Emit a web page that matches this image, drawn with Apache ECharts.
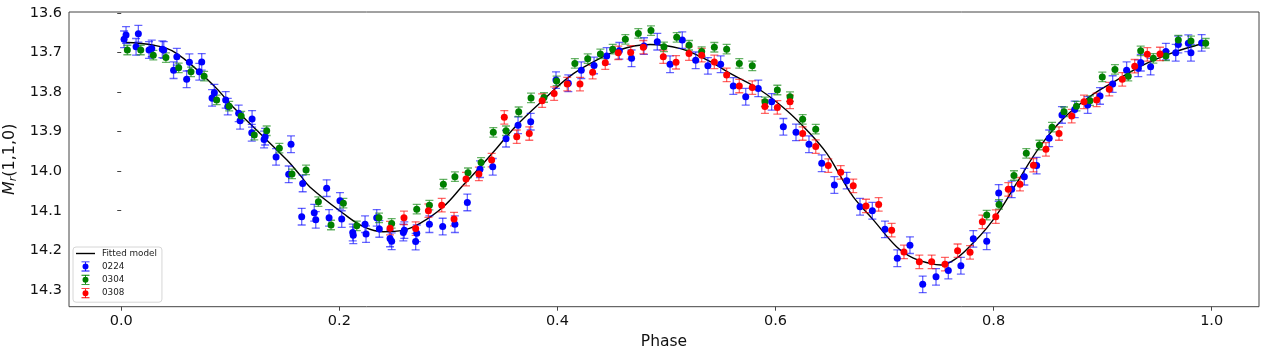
<!DOCTYPE html>
<html>
<head>
<meta charset="utf-8">
<script src="https://cdn.jsdelivr.net/npm/echarts@6/dist/echarts.min.js"></script>
<style>
  html, body { margin: 0; padding: 0; background: #fff; }
  #main { width: 1266px; height: 354px; }
</style>
</head>
<body>
<div id="main"></div>
<script>
// light curve data
var bluePhase = [0.0026, 0.0044, 0.0136, 0.0157, 0.0255, 0.028, 0.0377, 0.039, 0.048, 0.051,
  0.060, 0.0625, 0.0716, 0.0738, 0.0833, 0.0854, 0.0958, 0.0977, 0.1077, 0.109,
  0.1197, 0.120, 0.131, 0.132, 0.142, 0.1536, 0.1557, 0.1664, 0.1655, 0.177,
  0.1784, 0.1884, 0.1906, 0.2006, 0.2022, 0.2123, 0.2128, 0.2236, 0.2245, 0.2343,
  0.2367, 0.2465, 0.248, 0.2587, 0.2596, 0.270, 0.271, 0.2826, 0.2948, 0.306,
  0.3174, 0.329, 0.3407, 0.3529, 0.3639, 0.3755, 0.3987, 0.410, 0.4219, 0.4336,
  0.4452, 0.4568, 0.468, 0.4794, 0.4916, 0.5033, 0.5145, 0.5268, 0.538, 0.5497,
  0.5613, 0.5727, 0.5842, 0.5965, 0.6072, 0.6188, 0.6307, 0.6424, 0.654, 0.6653,
  0.6775, 0.6888, 0.7004, 0.7117, 0.7233, 0.735, 0.7472, 0.7585, 0.770, 0.7814,
  0.7937, 0.8047, 0.8166, 0.8282, 0.8395, 0.851, 0.8627, 0.8744, 0.8863, 0.8976,
  0.9092, 0.922, 0.9327, 0.935, 0.944, 0.958, 0.967, 0.9694, 0.9786, 0.981, 0.9908];
var blueMag = [13.667, 13.656, 13.686, 13.653, 13.694, 13.690, 13.692, 13.694, 13.745, 13.711,
  13.768, 13.725, 13.749, 13.724, 13.815, 13.802, 13.820, 13.837, 13.854, 13.873,
  13.903, 13.868, 13.920, 13.913, 13.964, 14.008, 13.932, 14.031, 14.115, 14.105,
  14.123, 14.043, 14.118, 14.075, 14.121, 14.155, 14.162, 14.134, 14.159, 14.118,
  14.146, 14.170, 14.177, 14.155, 14.149, 14.178, 14.157, 14.134, 14.140, 14.134,
  14.079, 13.995, 13.989, 13.918, 13.884, 13.875, 13.770, 13.778, 13.745, 13.733,
  13.709, 13.696, 13.715, 13.684, 13.673, 13.730, 13.669, 13.720, 13.734, 13.730,
  13.785, 13.812, 13.791, 13.825, 13.888, 13.902, 13.932, 13.980, 14.035, 14.024,
  14.090, 14.100, 14.147, 14.220, 14.187, 14.286, 14.267, 14.251, 14.239, 14.171,
  14.177, 14.055, 14.046, 14.014, 13.986, 13.917, 13.858, 13.844, 13.833, 13.810,
  13.780, 13.745, 13.740, 13.726, 13.736, 13.698, 13.701, 13.680, 13.677, 13.701, 13.676];

var greenPhase = [0.0056, 0.0179, 0.0294, 0.041, 0.0527, 0.064, 0.076, 0.0875, 0.099, 0.110,
  0.122, 0.1334, 0.145, 0.1566, 0.1695, 0.1808, 0.1924, 0.2037, 0.216, 0.2364,
  0.248, 0.271, 0.2826, 0.2954, 0.306, 0.318, 0.330, 0.3412, 0.3529, 0.3645,
  0.3758, 0.3877, 0.3993, 0.416, 0.4278, 0.4394, 0.4507, 0.4623, 0.4742, 0.4858,
  0.4977, 0.5094, 0.5207, 0.5323, 0.5439, 0.5552, 0.5668, 0.5787, 0.5903, 0.6017,
  0.6133, 0.6249, 0.6369, 0.7937, 0.805, 0.8187, 0.830, 0.842, 0.8536, 0.8646,
  0.876, 0.8884, 0.8997, 0.9113, 0.9235, 0.9349, 0.9465, 0.958, 0.9694, 0.981, 0.9945];
var greenMag = [13.694, 13.694, 13.707, 13.713, 13.739, 13.749, 13.760, 13.820, 13.836, 13.861,
  13.909, 13.898, 13.942, 14.007, 13.997, 14.077, 14.136, 14.081, 14.138, 14.118,
  14.132, 14.096, 14.086, 14.033, 14.014, 14.004, 13.978, 13.902, 13.898, 13.850,
  13.815, 13.814, 13.772, 13.728, 13.716, 13.704, 13.692, 13.667, 13.652, 13.645,
  13.686, 13.662, 13.682, 13.698, 13.687, 13.692, 13.728, 13.734, 13.825, 13.795,
  13.812, 13.869, 13.894, 14.111, 14.084, 14.011, 13.955, 13.934, 13.889, 13.850,
  13.836, 13.822, 13.762, 13.743, 13.760, 13.696, 13.715, 13.709, 13.669, 13.671, 13.677];

var redPhase = [0.2465, 0.2593, 0.270, 0.2817, 0.2939, 0.3052, 0.3162, 0.328, 0.3397, 0.3513,
  0.3627, 0.3742, 0.386, 0.397, 0.409, 0.4207, 0.4323, 0.4439, 0.4558, 0.4672,
  0.4788, 0.4971, 0.5088, 0.5207, 0.5323, 0.5439, 0.5552, 0.5668, 0.5787, 0.5903,
  0.6017, 0.6133, 0.6249, 0.6369, 0.6484, 0.6598, 0.6713, 0.683, 0.6946, 0.7065,
  0.7178, 0.7319, 0.7432, 0.7554, 0.767, 0.7784, 0.7897, 0.802, 0.8135, 0.8242,
  0.8365, 0.848, 0.860, 0.8716, 0.8829, 0.8945, 0.9061, 0.918, 0.9294, 0.941, 0.9526];
var redMag = [14.144, 14.118, 14.145, 14.100, 14.086, 14.121, 14.020, 14.007, 13.972, 13.864,
  13.913, 13.905, 13.822, 13.804, 13.780, 13.780, 13.750, 13.726, 13.701, 13.700,
  13.687, 13.711, 13.725, 13.703, 13.707, 13.724, 13.757, 13.785, 13.789, 13.837,
  13.839, 13.825, 13.905, 13.938, 13.986, 14.003, 14.037, 14.088, 14.084, 14.149,
  14.204, 14.229, 14.229, 14.235, 14.201, 14.205, 14.128, 14.115, 14.046, 14.033,
  13.985, 13.945, 13.905, 13.861, 13.825, 13.820, 13.793, 13.768, 13.735, 13.705, 13.704];

// typical 1-sigma error per night
var blueErr = 0.021;
var greenErr = 0.012;
var redErr = 0.017;

var modelPhase = [0.004, 0.03, 0.051, 0.0845, 0.1026, 0.121, 0.152, 0.164, 0.173, 0.2037,
  0.222, 0.2404, 0.2587, 0.274, 0.2954, 0.3137, 0.326, 0.3443, 0.3627, 0.387,
  0.4116, 0.433, 0.4544, 0.485, 0.512, 0.537, 0.561, 0.586, 0.610, 0.6286,
  0.647, 0.659, 0.6713, 0.6897, 0.711, 0.7264, 0.7417, 0.752, 0.766, 0.781,
  0.7937, 0.806, 0.821, 0.8425, 0.864, 0.888, 0.913, 0.937, 0.962, 0.986, 0.994];
var modelMag = [13.675, 13.682, 13.703, 13.783, 13.838, 13.888, 13.972, 14.010, 14.040, 14.107,
  14.140, 14.153, 14.149, 14.132, 14.090, 14.035, 13.999, 13.942, 13.884, 13.820,
  13.760, 13.724, 13.696, 13.680, 13.690, 13.719, 13.757, 13.795, 13.846, 13.896,
  13.955, 14.010, 14.065, 14.123, 14.191, 14.220, 14.233, 14.237, 14.220, 14.182,
  14.144, 14.098, 14.031, 13.938, 13.867, 13.812, 13.770, 13.732, 13.703, 13.682, 13.677];

var xTicks = [0, 0.2, 0.4, 0.6, 0.8, 1.0];
var yTicks = [13.6, 13.7, 13.8, 13.9, 14.0, 14.1, 14.2, 14.3];

function pts(ph, mg) {
  return ph.map(function (p, i) { return [p, mg[i]]; });
}
function errPts(ph, mg, e) {
  return ph.map(function (p, i) { return [p, mg[i] - e, mg[i] + e]; });
}

function renderErr(params, api) {
  var x = api.value(0);
  var a = api.coord([x, api.value(1)]);
  var b = api.coord([x, api.value(2)]);
  var w = 4;
  var st = { stroke: api.visual('color'), lineWidth: 1.3 };
  return {
    type: 'group',
    children: [
      { type: 'line', shape: { x1: a[0], y1: a[1], x2: b[0], y2: b[1] }, style: st },
      { type: 'line', shape: { x1: a[0] - w, y1: a[1], x2: a[0] + w, y2: a[1] }, style: st },
      { type: 'line', shape: { x1: b[0] - w, y1: b[1], x2: b[0] + w, y2: b[1] }, style: st }
    ]
  };
}

var errIcon = 'path://M6,0H14V0.9H6Z M9.55,0.9H10.45V9.1H9.55Z M6,9.1H14V10H6Z M13,5A3,3 0 1,1 7,5A3,3 0 1,1 13,5Z';
var lineIcon = 'path://M0,0H19V1.4H0Z';

function errSeries(name, color, ph, mg, e) {
  return {
    name: name,
    type: 'custom',
    renderItem: renderErr,
    itemStyle: { color: color },
    encode: { x: 0, y: [1, 2] },
    data: errPts(ph, mg, e),
    clip: true,
    silent: true
  };
}
function dotSeries(name, color, ph, mg) {
  return {
    name: name,
    type: 'scatter',
    symbol: 'circle',
    symbolSize: 7,
    itemStyle: { color: color, opacity: 1 },
    data: pts(ph, mg)
  };
}

var myChart = echarts.init(document.getElementById('main'));

var font = 'DejaVu Sans';

option = {
  animation: false,
  backgroundColor: '#fff',
  textStyle: { fontFamily: font },
  grid: {
    left: 69,
    right: 7,
    top: 12,
    bottom: 47.3,
    outerBoundsMode: 'none',
    show: true,
    borderColor: '#444',
    borderWidth: 1
  },
  legend: {
    orient: 'vertical',
    left: 73,
    top: 247,
    padding: [2, 5, 4, 3],
    itemWidth: 19,
    itemHeight: 10,
    itemGap: 3.4,
    backgroundColor: '#fff',
    borderColor: '#d6d6d6',
    borderWidth: 1,
    borderRadius: 3,
    symbolKeepAspect: true,
    textStyle: { fontFamily: font, fontSize: 8.8, color: '#222', padding: [0, 0, 0, 2] },
    selectedMode: false,
    data: [
      { name: 'Fitted model', icon: lineIcon, itemStyle: { color: '#000' } },
      { name: '0224', icon: errIcon, itemStyle: { color: '#0000ff' } },
      { name: '0304', icon: errIcon, itemStyle: { color: '#008000' } },
      { name: '0308', icon: errIcon, itemStyle: { color: '#ff0000' } }
    ]
  },
  xAxis: {
    type: 'value',
    min: -0.0479,
    max: 1.0434,
    name: 'Phase',
    nameLocation: 'middle',
    nameGap: 24,
    nameTextStyle: { fontFamily: font, fontSize: 15.5, color: '#111' },
    axisLine: { show: false },
    splitLine: { show: false },
    axisTick: {
      show: true,
      inside: false,
      length: 4,
      customValues: xTicks,
      lineStyle: { color: '#444' }
    },
    axisLabel: {
      customValues: xTicks,
      margin: 7,
      fontFamily: font,
      fontSize: 14.5,
      color: '#111',
      formatter: function (v) { return v.toFixed(1); }
    }
  },
  yAxis: {
    type: 'value',
    inverse: true,
    min: 13.598,
    max: 14.3424,
    name: '{m|M}{s|r}{n|(1,1,0)}',
    nameLocation: 'middle',
    nameGap: 47,
    nameTextStyle: {
      color: '#111',
      rich: {
        m: { fontFamily: font, fontStyle: 'italic', fontSize: 16, color: '#111' },
        s: { fontFamily: font, fontStyle: 'italic', fontSize: 11, color: '#111', verticalAlign: 'bottom', padding: [6, 0, 0, 0] },
        n: { fontFamily: font, fontSize: 16, color: '#111' }
      }
    },
    axisLine: { show: false },
    splitLine: { show: false },
    axisTick: {
      show: true,
      inside: false,
      length: 4,
      customValues: yTicks,
      lineStyle: { color: '#444' }
    },
    axisLabel: {
      customValues: yTicks,
      margin: 7,
      fontFamily: font,
      fontSize: 14.5,
      color: '#111',
      formatter: function (v) { return v.toFixed(1); }
    }
  },
  series: [
    {
      name: 'Fitted model',
      type: 'line',
      data: pts(modelPhase, modelMag),
      smooth: 0.4,
      symbol: 'none',
      showSymbol: false,
      lineStyle: { color: '#000', width: 1.4 },
      itemStyle: { color: '#000' },
      z: 1
    },
    errSeries('0224', 'rgba(0,0,255,0.6)', bluePhase, blueMag, blueErr),
    dotSeries('0224', '#0000ff', bluePhase, blueMag),
    errSeries('0304', 'rgba(0,128,0,0.6)', greenPhase, greenMag, greenErr),
    dotSeries('0304', '#008000', greenPhase, greenMag),
    errSeries('0308', 'rgba(255,0,0,0.6)', redPhase, redMag, redErr),
    dotSeries('0308', '#ff0000', redPhase, redMag)
  ]
};

myChart.setOption(option);
</script>
</body>
</html>
